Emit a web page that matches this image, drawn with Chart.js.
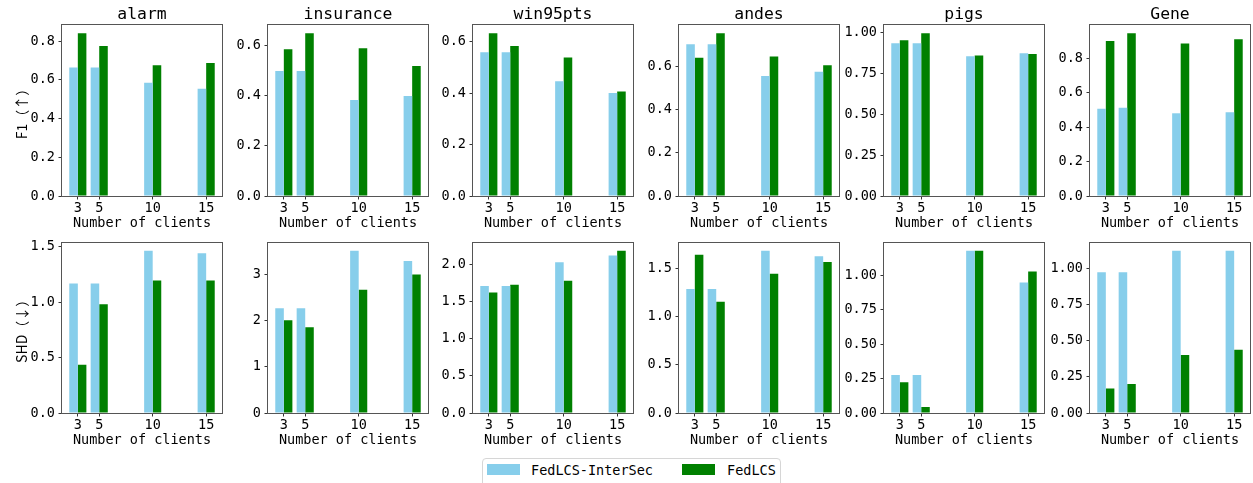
<!DOCTYPE html>
<html>
<head>
<meta charset="utf-8">
<title>FedLCS vs FedLCS-InterSec</title>
<script src="https://cdn.jsdelivr.net/npm/chart.js@4.4.1/dist/chart.umd.min.js"></script>
<style>
  html, body { margin: 0; padding: 0; background: #fff; overflow: hidden; width: 1253px; height: 483px; }
  canvas { position: absolute; }
  #legend { position: absolute; left: 482px; top: 458px; width: 299px; height: 32px; box-sizing: border-box;
            border: 1px solid #d6d6d6; border-radius: 4px; background: #fff; }
  #legend .sw { position: absolute; top: 5px; width: 33px; height: 11px; }
  #legend .lb { position: absolute; top: 3px; line-height: 16px; font-family: 'DejaVu Sans Mono', monospace;
                font-size: 13.5px; color: #000; white-space: pre; }
</style>
</head>
<body>
<div id="legend"></div>
<script>
// ---- data ----
const clients = [3, 5, 10, 15];
const networks = ['alarm', 'insurance', 'win95pts', 'andes', 'pigs', 'Gene'];
const seriesNames = ['FedLCS-InterSec', 'FedLCS'];
const seriesColors = ['#87CEEB', '#008000'];
const rowTitles = ['F1（↑）', 'SHD（↓）'];
const xTitle = 'Number of clients';

// F1 per network, one value per client count
const f1InterSec = [
  [0.664, 0.664, 0.585, 0.555],
  [0.500, 0.500, 0.384, 0.400],
  [0.559, 0.559, 0.446, 0.400],
  [0.705, 0.705, 0.558, 0.578],
  [0.933, 0.933, 0.853, 0.872],
  [0.507, 0.513, 0.481, 0.487]
];
const f1FedLCS = [
  [0.842, 0.776, 0.676, 0.688],
  [0.587, 0.651, 0.591, 0.520],
  [0.633, 0.583, 0.538, 0.406],
  [0.643, 0.757, 0.648, 0.608],
  [0.951, 0.994, 0.857, 0.867],
  [0.901, 0.947, 0.887, 0.912]
];
// SHD per network
const shdInterSec = [
  [1.168, 1.168, 1.464, 1.440],
  [2.273, 2.273, 3.525, 3.302],
  [1.714, 1.714, 2.036, 2.125],
  [1.284, 1.284, 1.682, 1.624],
  [0.277, 0.277, 1.181, 0.949],
  [0.973, 0.973, 1.121, 1.121]
];
const shdFedLCS = [
  [0.436, 0.980, 1.195, 1.195],
  [2.014, 1.863, 2.676, 3.007],
  [1.625, 1.732, 1.786, 2.190],
  [1.641, 1.153, 1.442, 1.565],
  [0.224, 0.043, 1.181, 1.029],
  [0.169, 0.201, 0.400, 0.437]
];
// y tick labels per panel
const f1Ticks = [
  ['0.0', '0.2', '0.4', '0.6', '0.8'],
  ['0.0', '0.2', '0.4', '0.6'],
  ['0.0', '0.2', '0.4', '0.6'],
  ['0.0', '0.2', '0.4', '0.6'],
  ['0.00', '0.25', '0.50', '0.75', '1.00'],
  ['0.0', '0.2', '0.4', '0.6', '0.8']
];
const shdTicks = [
  ['0.0', '0.5', '1.0', '1.5'],
  ['0', '1', '2', '3'],
  ['0.0', '0.5', '1.0', '1.5', '2.0'],
  ['0.0', '0.5', '1.0', '1.5'],
  ['0.00', '0.25', '0.50', '0.75', '1.00'],
  ['0.00', '0.25', '0.50', '0.75', '1.00']
];
const xTickLabels = ['3', '5', '10', '15'];

// ---- layout ----
const MONO = "'DejaVu Sans Mono', monospace";
const CJK = "'Noto Sans CJK SC', 'DejaVu Sans'";
const AXIS_LEFT = [62, 268, 473, 679, 884, 1090];
const Y_AXIS_W = 62, PLOT_W = 160, X_AXIS_H = 36, RIGHT_PAD = 2;
const ROWS = [
  { top: 0, plotTop: 25, plotBottom: 196 },
  { top: 231, plotTop: 241, plotBottom: 413 }
];

// axes frame on all four sides
const framePlugin = {
  id: 'frame',
  afterDraw(chart) {
    const a = chart.chartArea, ctx = chart.ctx;
    ctx.save();
    ctx.strokeStyle = '#555';
    ctx.lineWidth = 1;
    ctx.strokeRect(Math.round(a.left) - 0.5, Math.round(a.top) - 0.5,
                   Math.round(a.right - a.left) + 1, Math.round(a.bottom - a.top) + 1);
    ctx.restore();
  }
};

function makePanel(row, col) {
  const r = ROWS[row];
  const inter = row === 0 ? f1InterSec[col] : shdInterSec[col];
  const fed = row === 0 ? f1FedLCS[col] : shdFedLCS[col];
  const tickLabels = row === 0 ? f1Ticks[col] : shdTicks[col];
  const yMax = 1.05 * Math.max(...inter, ...fed);

  const canvas = document.createElement('canvas');
  const w = Y_AXIS_W + PLOT_W + RIGHT_PAD;
  const h = r.plotBottom + X_AXIS_H - r.top;
  canvas.width = w; canvas.height = h;
  canvas.style.left = (AXIS_LEFT[col] - Y_AXIS_W) + 'px';
  canvas.style.top = r.top + 'px';
  canvas.style.width = w + 'px'; canvas.style.height = h + 'px';
  document.body.appendChild(canvas);

  new Chart(canvas, {
    type: 'bar',
    data: {
      datasets: [inter, fed].map((vals, k) => ({
        label: seriesNames[k],
        data: clients.map((c, i) => ({ x: c, y: vals[i] })),
        backgroundColor: seriesColors[k],
        borderWidth: 0
      }))
    },
    options: {
      responsive: false,
      animation: false,
      devicePixelRatio: 1,
      datasets: { bar: { categoryPercentage: 0.8, barPercentage: 1 } },
      layout: { padding: { top: r.plotTop - r.top - (row === 0 ? 25 : 0), left: 0, right: RIGHT_PAD, bottom: 0 } },
      plugins: {
        legend: { display: false },
        tooltip: { enabled: false },
        title: {
          display: row === 0,
          fullSize: false,
          text: networks[col],
          color: '#000',
          font: { family: MONO, size: 16.4, lineHeight: 1.0, weight: 'normal' },
          padding: { top: 7, bottom: 1.6 }
        }
      },
      scales: {
        x: {
          type: 'linear',
          min: 1.52, max: 16.48,
          offset: false,
          border: { display: false },
          grid: { offset: false, drawOnChartArea: false, drawTicks: true, tickLength: 3.5, color: '#333' },
          afterBuildTicks: s => { s.ticks = clients.map(v => ({ value: v })); },
          afterFit: s => { s.height = X_AXIS_H; },
          ticks: {
            autoSkip: false, maxRotation: 0, padding: 0.5, color: '#000',
            font: { family: MONO, size: 13.5, lineHeight: 1.2 },
            callback: (v, i) => xTickLabels[i]
          },
          title: {
            display: true, text: xTitle, color: '#000',
            font: { family: MONO, size: 13.5, lineHeight: 1.2 },
            padding: { top: 0, bottom: 0.5 }
          }
        },
        y: {
          min: 0, max: yMax,
          border: { display: false },
          grid: { drawOnChartArea: false, drawTicks: true, tickLength: 3.5, color: '#333' },
          afterBuildTicks: s => { s.ticks = tickLabels.map(t => ({ value: Number(t) })); },
          afterFit: s => { s.width = Y_AXIS_W; },
          ticks: {
            padding: 3.5, color: '#000',
            font: { family: MONO, size: 13.5, lineHeight: 1.2 },
            callback: (v, i) => tickLabels[i]
          },
          title: {
            display: col === 0, text: rowTitles[row], color: '#000',
            font: { family: CJK, size: 14, lineHeight: 1.2 },
            padding: { top: 13, bottom: 0 }
          }
        }
      }
    },
    plugins: [framePlugin]
  });
}

for (let row = 0; row < 2; row++) {
  for (let col = 0; col < networks.length; col++) makePanel(row, col);
}

// shared legend below the grid
const legend = document.getElementById('legend');
const legendPos = [{ sw: 4, lb: 48 }, { sw: 199, lb: 244 }];
seriesNames.forEach((name, k) => {
  const sw = document.createElement('div');
  sw.className = 'sw';
  sw.style.left = legendPos[k].sw + 'px';
  sw.style.background = seriesColors[k];
  const lb = document.createElement('div');
  lb.className = 'lb';
  lb.style.left = legendPos[k].lb + 'px';
  lb.textContent = name;
  legend.appendChild(sw);
  legend.appendChild(lb);
});
</script>
</body>
</html>
